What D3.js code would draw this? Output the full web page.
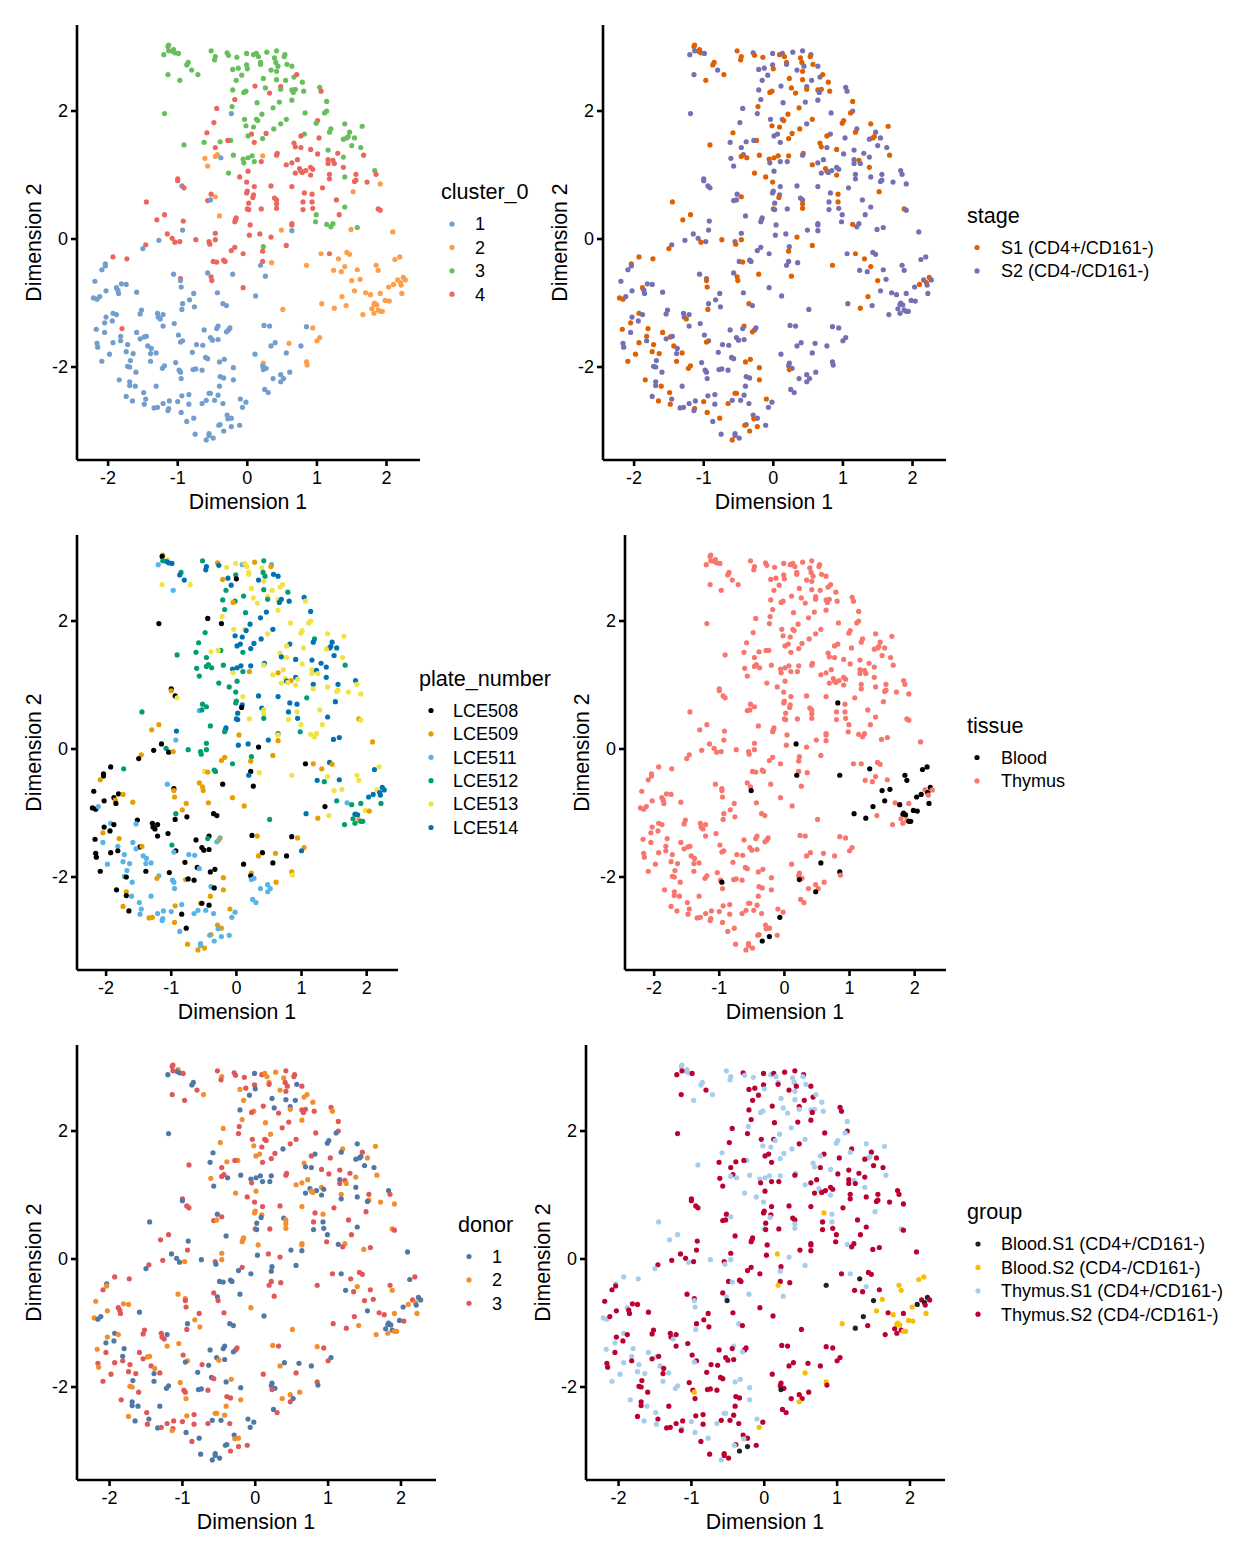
<!DOCTYPE html>
<html>
<head>
<meta charset="utf-8">
<script src="https://cdnjs.cloudflare.com/ajax/libs/d3/7.8.5/d3.min.js"></script>
<style>
html, body { margin: 0; padding: 0; background: #fff; }
text { font-family: "Liberation Sans", Arial, sans-serif; fill: #000; }
</style>
</head>
<body>
<script>
// one entry per cell, same order in every column
var dim1 = [
-1.13,-1.14,-1.06,-1.07,-1.04,-1.13,-0.99,-1.20,-0.85,-0.87,
-0.80,-0.71,-1.14,-0.97,-1.19,-0.52,-0.46,-0.47,-0.29,-0.27,
-0.15,-0.01,0.09,0.13,0.16,0.28,0.42,0.39,0.41,0.54,
0.53,0.57,0.64,0.44,0.19,0.19,-0.01,0.00,-0.13,-0.21,
-0.08,-0.16,0.34,0.42,0.23,0.42,0.55,0.67,0.71,0.79,
0.11,0.26,0.32,0.48,0.48,0.64,0.69,0.66,0.81,1.04,
1.06,-0.21,-0.02,-0.05,-0.18,0.14,0.46,0.64,1.14,-0.22,
-0.44,0.37,0.83,1.14,1.11,-0.23,0.21,-0.04,0.13,0.15,
0.56,-0.48,0.48,1.01,0.99,1.40,1.65,-0.02,0.09,0.38,
1.20,-0.58,0.27,1.18,1.47,0.06,0.01,0.82,0.77,1.45,
1.43,1.38,1.54,1.03,0.22,-0.24,-0.28,-0.39,-0.62,0.10,
0.67,-0.91,1.50,1.63,-0.46,0.69,0.77,0.91,1.16,1.01,
1.30,1.67,1.38,0.43,0.42,-0.20,-0.43,-0.46,-0.38,-0.61,
0.07,0.01,-0.06,0.22,-0.05,0.10,0.20,0.72,0.64,0.56,
1.16,1.16,1.23,1.25,-0.57,1.38,0.91,0.94,0.84,0.75,
0.77,0.79,0.69,0.01,-0.27,1.83,1.85,0.91,1.18,1.56,
-0.11,1.40,1.18,-1.00,-1.00,1.56,1.54,1.72,1.91,-0.01,
-0.94,-0.91,0.10,0.34,0.64,1.08,0.00,-0.01,0.82,1.52,
-0.52,-0.46,0.09,0.08,0.93,0.39,0.42,-0.57,-0.53,-1.45,
1.28,0.80,0.93,0.02,0.42,1.40,0.00,0.02,0.20,0.42,
0.80,0.94,1.88,1.91,0.99,1.32,-1.19,-0.40,-0.16,-0.17,
-0.18,-1.30,-0.92,0.04,0.64,0.64,0.98,1.14,1.23,1.20,
1.58,1.49,2.09,-0.93,0.49,0.64,-1.15,-0.46,0.03,0.18,
0.34,-1.27,-1.08,-1.04,-0.97,-0.74,-0.55,-0.54,-0.46,-1.46,
-1.50,-0.18,-0.23,-0.06,0.23,0.22,0.56,-1.93,-1.73,-2.04,
-2.04,-2.09,-0.49,-0.44,-0.34,-0.32,0.22,0.35,0.19,0.85,
1.06,1.18,1.43,1.47,1.31,1.40,1.24,1.35,1.58,1.85,
1.88,2.12,2.19,-1.06,-0.57,-0.52,-0.51,-0.21,0.26,-0.96,
-0.96,-0.95,-2.19,-1.81,-1.74,-1.88,-2.03,-1.86,-1.85,-1.59,
-0.06,-0.43,-0.77,1.62,1.50,1.54,1.70,1.77,1.91,1.36,
0.12,2.03,2.10,2.16,2.24,2.27,2.20,2.21,2.22,-2.21,
-2.16,-2.12,-0.83,-0.93,-0.35,-0.30,-0.76,-0.94,0.51,1.07,
1.25,1.42,1.98,2.04,1.83,1.82,1.86,1.79,1.88,1.94,
1.82,1.66,-1.52,-1.54,-1.29,-1.21,-1.28,-1.25,-1.93,-1.88,
-2.03,-1.94,-2.05,-2.17,-1.80,-1.21,-1.05,-0.42,-0.62,-0.44,
-0.25,-0.27,-0.30,0.24,0.32,0.85,0.94,-2.05,-1.59,-0.99,
-1.82,-1.48,-1.45,-1.54,-1.82,-0.53,-0.50,-0.42,1.04,1.00,
-0.93,-0.96,-1.93,-2.16,-2.15,-1.72,-1.43,-1.38,-0.73,-0.64,
0.40,0.34,0.60,0.77,-1.74,-1.64,-1.39,-1.31,-0.79,-1.98,
0.11,0.56,-0.60,-0.57,-0.33,-0.40,-2.09,-1.68,-1.39,-1.03,
0.85,0.86,0.23,0.22,0.27,0.23,-0.20,-1.19,-1.22,-1.72,
-1.69,-0.78,-0.74,-0.65,-0.98,-0.96,-1.60,0.61,0.48,0.52,
0.37,0.48,-0.39,-0.34,-0.95,-0.20,-1.84,-1.69,-1.69,-1.61,
-1.31,-0.40,0.25,0.30,-1.49,-0.55,-0.53,-0.84,-0.94,-0.42,
-1.74,-1.46,-1.65,-1.12,-1.00,-0.59,-0.47,-0.10,-0.02,-1.48,
-1.21,-0.84,-0.65,-0.35,-0.07,-1.34,-1.29,-1.13,-1.14,-0.95,
-0.29,-0.23,-0.28,-0.77,-0.87,-0.39,-0.41,-0.23,-0.11,-0.34,
-0.75,-0.55,-0.55,-0.49,-0.59,1.91
];
var dim2 = [
3.03,3.01,2.96,2.93,2.91,2.94,2.90,2.88,2.76,2.72,
2.64,2.57,2.57,2.48,1.96,2.94,2.85,2.80,2.91,2.87,
2.84,2.90,2.88,2.90,2.85,2.92,2.94,2.83,2.76,2.88,
2.85,2.73,2.70,2.70,2.76,2.73,2.72,2.66,2.67,2.65,
2.56,2.48,2.64,2.62,2.51,2.49,2.48,2.53,2.57,2.45,
2.39,2.36,2.28,2.38,2.34,2.33,2.34,2.29,2.31,2.37,
2.31,2.33,2.31,2.29,2.18,2.13,2.14,2.17,2.15,2.07,
2.04,2.05,1.97,2.00,1.97,1.96,1.95,1.87,1.87,1.85,
1.87,1.82,1.80,1.85,1.81,1.80,1.76,1.77,1.75,1.72,
1.72,1.66,1.65,1.67,1.67,1.64,1.61,1.64,1.61,1.60,
1.58,1.56,1.58,1.58,1.57,1.54,1.54,1.52,1.51,1.51,
1.50,1.47,1.46,1.43,1.43,1.44,1.43,1.40,1.39,1.33,
1.34,1.31,1.28,1.34,1.31,1.31,1.32,1.29,1.27,1.26,
1.30,1.27,1.25,1.30,1.19,1.21,1.21,1.24,1.19,1.16,
1.24,1.18,1.23,1.18,1.14,1.12,1.12,1.09,1.07,1.10,
1.06,1.04,1.03,1.06,1.03,1.07,1.01,1.00,1.01,1.01,
0.97,0.97,0.94,0.94,0.91,0.92,0.90,0.89,0.86,0.89,
0.83,0.80,0.82,0.83,0.82,0.80,0.75,0.72,0.72,0.74,
0.70,0.66,0.69,0.65,0.70,0.64,0.61,0.60,0.61,0.58,
0.61,0.58,0.58,0.56,0.55,0.50,0.47,0.46,0.47,0.48,
0.46,0.48,0.47,0.45,0.38,0.38,0.38,0.36,0.33,0.30,
0.27,0.30,0.28,0.22,0.24,0.22,0.27,0.23,0.24,0.19,
0.18,0.15,0.11,0.14,0.14,0.13,0.08,0.09,0.06,0.08,
0.03,-0.02,0.01,-0.05,-0.04,-0.01,-0.04,-0.08,-0.01,-0.09,
-0.15,-0.13,-0.18,-0.23,-0.12,-0.19,-0.10,-0.28,-0.31,-0.39,
-0.42,-0.48,-0.35,-0.36,-0.33,-0.35,-0.35,-0.37,-0.41,-0.41,
-0.23,-0.23,-0.21,-0.24,-0.31,-0.43,-0.49,-0.51,-0.48,-0.41,
-0.49,-0.32,-0.28,-0.55,-0.53,-0.59,-0.65,-0.55,-0.58,-0.62,
-0.65,-0.75,-0.66,-0.70,-0.71,-0.76,-0.81,-0.80,-0.85,-0.83,
-0.76,-0.84,-0.85,-0.63,-0.65,-0.81,-0.84,-0.87,-0.85,-0.90,
-0.89,-0.75,-0.71,-0.64,-0.60,-0.64,-0.68,-0.72,-0.85,-0.92,
-0.94,-0.90,-0.95,-1.01,-1.01,-1.04,-1.06,-1.10,-1.10,-1.01,
-1.08,-1.04,-0.96,-0.97,-1.00,-1.02,-1.03,-1.09,-1.11,-1.13,
-1.16,-1.18,-1.11,-1.17,-1.16,-1.18,-1.22,-1.25,-1.16,-1.18,
-1.22,-1.28,-1.31,-1.41,-1.40,-1.36,-1.32,-1.36,-1.42,-1.40,
-1.39,-1.42,-1.45,-1.35,-1.36,-1.37,-1.39,-1.46,-1.46,-1.50,
-1.52,-1.53,-1.52,-1.56,-1.59,-1.54,-1.58,-1.57,-1.54,-1.59,
-1.59,-1.61,-1.62,-1.63,-1.69,-1.65,-1.67,-1.71,-1.65,-1.66,
-1.62,-1.67,-1.63,-1.67,-1.76,-1.79,-1.79,-1.78,-1.77,-1.80,
-1.80,-1.78,-1.85,-1.87,-1.88,-1.92,-1.91,-1.90,-1.91,-1.93,
-1.92,-1.97,-1.94,-1.98,-2.02,-2.04,-2.01,-1.98,-2.02,-1.99,
-2.00,-2.04,-2.03,-2.05,-2.05,-2.08,-2.08,-2.08,-2.12,-2.18,
-2.18,-2.23,-2.15,-2.17,-2.18,-2.20,-2.20,-2.23,-2.29,-2.30,
-2.30,-2.30,-2.35,-2.40,-2.40,-2.41,-2.41,-2.43,-2.45,-2.44,
-2.46,-2.50,-2.53,-2.53,-2.54,-2.52,-2.52,-2.50,-2.55,-2.58,
-2.57,-2.58,-2.57,-2.57,-2.63,-2.64,-2.63,-2.65,-2.68,-2.71,
-2.75,-2.80,-2.81,-2.80,-2.85,-2.90,-2.91,-2.93,-2.91,-3.00,
-3.05,-3.04,-3.07,-3.11,-3.14,-1.13
];
var cluster0 = [
3,3,3,3,3,3,3,3,3,3, 3,3,3,3,3,3,3,3,3,3, 3,3,3,3,3,3,3,3,3,3, 3,3,3,3,3,3,3,3,3,3,
3,3,3,3,3,3,3,3,4,3, 4,3,4,4,3,3,3,3,3,3, 4,3,3,3,4,3,3,3,3,3, 4,3,3,3,3,1,3,3,3,3,
3,4,3,4,3,3,3,3,3,3, 3,4,4,3,3,4,3,3,4,3, 3,3,3,4,3,3,4,3,3,4, 4,3,3,3,4,4,4,4,3,4,
4,4,3,4,4,3,2,2,1,2, 3,3,3,2,3,3,4,4,4,4, 4,4,4,4,2,4,4,4,4,4, 4,4,4,4,3,3,4,4,4,4,
4,3,4,4,4,4,4,4,2,4, 1,4,4,4,4,4,4,4,4,2, 4,2,4,4,4,4,4,4,1,4, 4,4,4,4,4,3,4,4,4,4,
4,4,4,4,3,4,4,2,4,4, 4,4,4,4,4,4,3,3,3,3, 3,2,2,1,2,1,4,4,4,4, 4,1,4,4,4,4,4,4,4,4,
1,4,4,4,3,4,4,4,4,1, 1,1,4,4,4,4,4,2,1,2, 2,4,2,2,2,2,2,2,2,2, 2,2,2,1,1,4,4,1,1,4,
1,1,1,1,1,1,1,1,1,1, 4,1,1,2,2,2,2,2,2,2, 1,2,2,2,2,2,2,2,2,1, 1,1,1,1,1,1,1,1,2,2,
2,2,2,2,2,2,2,2,2,2, 2,2,1,1,1,1,1,1,1,1, 1,1,1,1,4,1,1,1,1,1, 1,1,1,1,1,1,2,1,1,1,
1,1,1,1,1,1,1,1,2,2, 1,1,1,1,1,1,1,1,1,1, 1,1,2,1,1,1,1,1,1,1, 1,1,1,1,1,1,1,1,1,1,
2,2,2,1,1,1,1,1,1,1, 1,1,1,1,1,1,1,1,1,1, 1,1,1,1,1,1,1,1,1,1, 1,1,1,1,1,1,1,1,1,1,
1,1,1,1,1,1,1,1,1,1, 1,1,1,1,1,1,1,1,1,1, 1,1,1,1,1,1,1,1,1,1, 1,1,1,1,1,2
];
var stage = [
1,1,1,1,1,2,2,2,1,1, 2,1,2,1,2,1,1,1,2,1, 1,2,1,2,1,2,2,1,1,2, 1,1,2,2,1,2,2,1,2,2,
2,2,2,1,1,1,2,2,1,1, 2,1,1,2,1,1,1,2,1,2, 2,2,1,1,2,2,2,2,1,1, 2,1,2,2,1,2,1,2,2,1,
1,2,2,1,1,1,1,1,1,1, 2,1,1,1,2,2,2,2,1,1, 1,2,2,2,1,1,2,2,2,2, 1,1,2,2,2,1,2,1,2,2,
2,1,2,1,2,1,2,1,1,2, 1,1,1,1,2,2,2,2,2,1, 2,2,1,2,2,1,2,2,2,1, 1,2,2,2,1,2,2,1,2,2,
1,2,2,2,2,2,2,2,2,1, 2,2,2,2,2,2,2,2,2,1, 2,1,2,1,1,2,2,2,2,1, 2,2,1,2,1,2,1,2,2,1,
2,2,1,2,2,2,1,2,2,2, 2,1,2,2,2,2,2,1,2,2, 2,2,2,2,2,2,2,2,2,2, 1,2,2,1,2,1,2,1,1,2,
1,2,2,2,2,1,1,1,1,1, 2,2,2,1,2,2,2,2,2,1, 2,1,2,2,1,1,2,2,2,2, 2,2,2,2,2,1,1,1,1,2,
1,1,2,2,2,1,2,2,2,2, 2,2,2,2,1,2,2,2,2,1, 2,2,1,2,1,2,1,2,2,1, 1,2,2,2,1,2,2,1,2,2,
1,2,2,2,2,2,2,2,2,2, 2,2,2,2,2,2,2,1,1,2, 2,2,1,1,1,2,2,1,2,2, 2,2,1,2,2,2,2,2,1,2,
1,1,2,2,2,2,2,2,2,2, 2,1,1,2,2,1,1,2,2,2, 2,2,2,2,1,1,2,1,2,1, 2,2,2,2,1,1,1,2,1,2,
2,2,2,2,2,1,1,1,1,2, 2,2,2,2,2,2,2,2,2,2, 2,2,2,2,2,1,1,2,2,1, 2,2,2,2,1,1,1,2,2,2,
2,2,1,2,1,2,2,1,2,1, 2,2,1,2,2,2,2,1,2,1, 2,2,1,1,2,2,1,1,2,1, 2,2,2,2,1,2
];
var plateNumber = [
9,8,3,4,4,2,4,1,2,4, 4,3,3,1,8,2,4,4,9,4, 3,3,1,3,3,9,2,3,2,1, 9,4,4,2,3,3,2,8,4,9,
4,2,4,3,3,2,3,3,3,2, 2,3,3,3,2,3,4,4,4,4, 3,2,2,9,2,2,4,3,4,3, 8,4,3,3,3,8,4,3,3,4,
4,2,3,3,3,3,3,4,4,4, 2,2,4,4,4,4,4,4,3,4, 4,3,4,3,4,2,3,3,2,2, 3,2,4,3,2,4,3,4,4,3,
4,2,4,4,3,2,2,2,2,2, 4,4,4,4,3,2,9,3,9,3, 3,3,4,3,2,4,4,3,9,3, 4,3,3,2,2,4,3,3,4,4,
2,3,3,8,9,3,3,3,3,2, 8,3,3,4,4,2,2,2,4,4, 2,2,4,8,4,4,3,1,2,2, 3,4,3,4,3,4,4,4,3,2,
3,4,9,3,3,3,9,2,4,4, 2,9,4,9,4,3,2,3,3,3, 4,4,9,1,4,9,8,2,4,4, 8,8,2,8,9,2,2,2,2,9,
8,9,9,2,2,9,9,8,2,8, 8,9,3,9,2,2,8,3,4,3, 8,9,4,9,9,3,4,2,4,3, 3,4,3,1,9,9,9,8,8,8,
9,9,8,8,9,8,8,9,8,9, 9,9,9,3,3,2,1,2,2,8, 9,4,4,3,4,4,4,4,2,8, 8,1,9,2,8,8,8,8,2,4,
9,3,3,9,3,4,4,2,9,2, 2,2,8,1,8,8,8,8,1,8, 8,8,9,8,9,8,8,8,8,2, 1,9,1,8,9,8,9,1,1,2,
1,8,9,1,8,8,8,8,9,4, 8,1,8,8,8,1,1,1,1,1, 8,9,9,8,1,1,1,1,8,1, 8,8,8,1,8,8,8,1,8,8,
9,3,9,8,1,1,9,1,9,1, 8,9,8,8,1,1,1,9,1,1, 1,1,1,8,1,9,8,9,8,1, 1,9,1,1,1,9,8,1,9,8,
9,1,8,1,1,1,1,9,1,1, 1,8,1,1,1,9,9,1,1,9, 9,9,1,8,1,9,1,1,1,1, 9,1,1,9,9,2
];
var donor = [
3,3,2,1,1,3,3,1,1,1, 3,2,3,3,1,3,2,3,3,3, 3,1,3,2,2,2,3,2,3,3, 3,1,3,3,2,3,3,1,3,2,
1,2,2,3,1,1,1,2,2,2, 3,1,3,1,2,3,3,3,3,3, 2,1,2,3,2,2,3,2,3,3, 2,3,3,3,1,3,2,3,3,3,
3,2,3,1,1,1,2,2,3,1, 2,1,3,1,3,2,2,1,3,1, 1,1,2,3,3,2,3,2,1,3, 2,3,1,1,3,1,1,3,3,3,
3,2,2,3,3,1,3,3,1,2, 1,1,1,1,3,1,1,2,2,2, 1,3,3,2,1,1,2,1,1,1, 2,2,1,2,2,1,3,1,2,3,
3,1,1,3,1,2,1,2,2,3, 3,3,3,3,2,3,2,2,3,3, 1,3,2,1,2,1,2,3,2,1, 3,3,1,1,2,1,3,1,3,2,
1,1,2,3,1,3,3,1,2,2, 2,3,1,2,2,2,3,1,2,3, 3,2,1,3,1,1,1,2,1,3, 3,3,1,1,2,1,3,1,2,3,
1,3,1,1,1,1,1,3,3,1, 2,3,1,1,1,1,3,3,3,3, 3,1,3,3,3,2,1,3,3,3, 2,1,3,2,3,1,3,1,3,2,
3,3,2,2,2,3,2,3,3,1, 2,3,3,3,3,1,3,3,2,3, 1,1,2,3,1,1,2,1,2,2, 1,1,2,1,1,1,2,3,2,3,
3,2,1,3,1,1,1,1,1,2, 2,2,3,3,3,1,3,3,1,2, 2,1,1,2,1,2,2,1,1,1, 3,3,1,2,3,2,3,3,3,3,
1,2,2,3,3,1,2,1,1,3, 2,1,3,3,2,3,3,2,3,1, 1,2,1,1,3,3,1,3,1,3, 3,3,1,3,2,1,3,1,1,2,
3,1,1,1,1,3,1,1,1,2, 2,1,1,3,3,3,3,2,2,1, 2,3,3,3,2,2,3,1,1,1, 1,2,1,3,3,2,2,3,2,2,
2,1,1,3,3,1,1,1,1,3, 3,3,3,3,1,1,3,3,2,1, 1,2,2,1,3,1,1,3,3,3, 1,1,1,1,1,2
];
// 1-based positions of the cells that came from blood, all others are thymus
var bloodCells = [179,230,259,260,265,270,271,272,273,277,294,295,296,298,300,302,303,305,307,309,
320,321,323,324,325,326,327,330,392,401,406,416,422,455,468,470,476];

var tissue = dim1.map(function(d, i){
    return bloodCells.indexOf(i + 1) >= 0 ? 1 : 2;
});
var group = dim1.map(function(d, i){
    return (tissue[i] - 1) * 2 + stage[i];
});

var xTicks = [-2, -1, 0, 1, 2];
var yTicks = [-2, 0, 2];

var stageLabels = ["S1 (CD4+/CD161-)", "S2 (CD4-/CD161-)"];
var groupLabels = ["Blood.S1 (CD4+/CD161-)", "Blood.S2 (CD4-/CD161-)", "Thymus.S1 (CD4+/CD161-)", "Thymus.S2 (CD4-/CD161-)"];

var panels = [
    {title: "cluster_0", values: cluster0, levels: [1, 2, 3, 4], labels: ["1", "2", "3", "4"],
     colours: ["#729ECE", "#FF9E4A", "#67BF5C", "#ED665D"],
     left: 77, right: 420, top: 25, bottom: 460, legendX: 441, legendY: 191.5, keyX: 452, labelX: 475},
    {title: "stage", values: stage, levels: [1, 2], labels: stageLabels,
     colours: ["#E06000", "#7570B3"],
     left: 603, right: 946, top: 25, bottom: 460, legendX: 967, legendY: 215, keyX: 977, labelX: 1001},
    {title: "plate_number", values: plateNumber, levels: [8, 9, 1, 2, 3, 4],
     labels: ["LCE508", "LCE509", "LCE511", "LCE512", "LCE513", "LCE514"],
     colours: ["#000000", "#E69F00", "#56B4E9", "#009E73", "#F0E442", "#0072B2"],
     left: 77, right: 398, top: 535, bottom: 970, legendX: 419, legendY: 678, keyX: 431, labelX: 453},
    {title: "tissue", values: tissue, levels: [1, 2], labels: ["Blood", "Thymus"],
     colours: ["#000000", "#F8766D"],
     left: 625, right: 946, top: 535, bottom: 970, legendX: 967, legendY: 725, keyX: 977, labelX: 1001},
    {title: "donor", values: donor, levels: [1, 2, 3], labels: ["1", "2", "3"],
     colours: ["#4E79A7", "#F28E2B", "#E15759"],
     left: 77, right: 436, top: 1045, bottom: 1480, legendX: 458, legendY: 1224, keyX: 469, labelX: 492},
    {title: "group", values: group, levels: [1, 2, 3, 4], labels: groupLabels,
     colours: ["#222222", "#F7BF00", "#A5CDEE", "#BD0032"],
     left: 586, right: 945, top: 1045, bottom: 1480, legendX: 967, legendY: 1211.5, keyX: 978, labelX: 1001}
];

var svg = d3.select("body")
            .append("svg")
            .attr("width", 1248)
            .attr("height", 1560)
            .style("display", "block");

function drawPanel(p){
    var x = d3.scaleLinear().domain([-2.447, 2.481]).range([p.left, p.right]);
    var y = d3.scaleLinear().domain([-3.453, 3.344]).range([p.bottom, p.top]);
    var colour = d3.scaleOrdinal().domain(p.levels).range(p.colours);

    svg.append("g")
        .selectAll("circle")
        .data(dim1)
        .enter()
        .append("circle")
        .attr("cx", function(d) { return x(d); })
        .attr("cy", function(d, i) { return y(dim2[i]); })
        .attr("r", 2.6)
        .attr("fill", function(d, i) { return colour(p.values[i]); });

    var xAxis = d3.axisBottom(x).tickValues(xTicks).tickSizeInner(6).tickSizeOuter(0).tickPadding(5).offset(0)
        .tickFormat(function(d) { return String(d); });
    var yAxis = d3.axisLeft(y).tickValues(yTicks).tickSizeInner(6).tickSizeOuter(0).tickPadding(3).offset(0)
        .tickFormat(function(d) { return String(d); });

    var gx = svg.append("g").attr("transform", "translate(0," + p.bottom + ")").call(xAxis);
    var gy = svg.append("g").attr("transform", "translate(" + p.left + ",0)").call(yAxis);

    [gx, gy].forEach(function(g){
        g.selectAll("path, line").attr("stroke", "#000").attr("stroke-width", 2.6);
        g.selectAll("text").style("font-size", "18px").attr("fill", "#000");
    });

    svg.append("text")
        .attr("x", (p.left + p.right) / 2 - 0.5)
        .attr("y", p.bottom + 42)
        .attr("dy", "0.35em")
        .attr("text-anchor", "middle")
        .style("font-size", "21.3px")
        .text("Dimension 1");

    svg.append("text")
        .attr("transform", "translate(" + (p.left - 43) + "," + ((p.top + p.bottom) / 2) + ") rotate(-90)")
        .attr("dy", "0.35em")
        .attr("text-anchor", "middle")
        .style("font-size", "21.3px")
        .text("Dimension 2");

    // legend
    svg.append("text")
        .attr("x", p.legendX)
        .attr("y", p.legendY)
        .attr("dy", "0.35em")
        .style("font-size", "21.6px")
        .text(p.title);

    var rowY = d3.scalePoint()
        .domain(p.levels)
        .range([p.legendY + 32.5, p.legendY + 32.5 + 23.4 * (p.levels.length - 1)]);

    p.levels.forEach(function(level, i){
        svg.append("circle")
            .attr("cx", p.keyX)
            .attr("cy", rowY(level))
            .attr("r", 2.6)
            .attr("fill", p.colours[i]);
        svg.append("text")
            .attr("x", p.labelX)
            .attr("y", rowY(level))
            .attr("dy", "0.35em")
            .style("font-size", "18.05px")
            .text(p.labels[i]);
    });
}

panels.forEach(drawPanel);
</script>
</body>
</html>
